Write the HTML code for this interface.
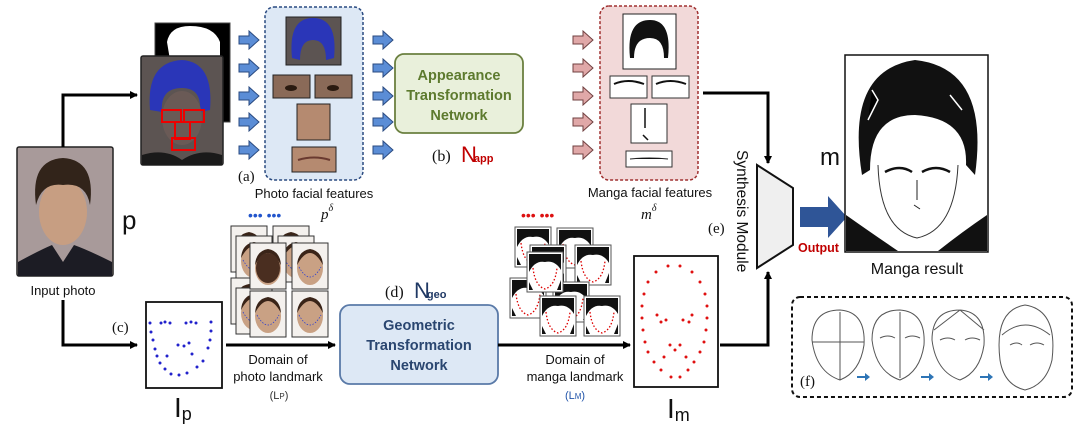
<!DOCTYPE html>
<html><head><meta charset="utf-8"><style>
html,body{margin:0;padding:0;background:#fff;width:1080px;height:428px;overflow:hidden}
svg text{font-family:"Liberation Sans",sans-serif}
.serif{font-family:"Liberation Serif",serif}
</style></head><body>
<svg width="1080" height="428" viewBox="0 0 1080 428" xmlns="http://www.w3.org/2000/svg">
<defs>
<marker id="ah" markerWidth="8" markerHeight="8" refX="7" refY="4" orient="auto" markerUnits="userSpaceOnUse"><path d="M0,0 L8,4 L0,8 Z" fill="#000"/></marker>
<g id="barr"><path d="M0,-4 H10 V-9 L20,0 L10,9 V4 H0 Z" fill="#5b8dd6" stroke="#2a4a80" stroke-width="1"/></g>
<g id="parr"><path d="M0,-4 H10 V-9 L20,0 L10,9 V4 H0 Z" fill="#e0a8a8" stroke="#704040" stroke-width="1"/></g>
<g id="face"><rect x="0" y="0" width="36" height="46" fill="#f4f1ee" stroke="#333" stroke-width="1"/><ellipse cx="18" cy="25" rx="13" ry="17" fill="#c9a184"/><path d="M5,22 Q18,-2 31,22 Q30,8 18,6 Q6,8 5,22Z" fill="#3a2418"/><path d="M7,24 Q18,44 29,24" fill="none" stroke="#3344cc" stroke-width="0.8" stroke-dasharray="1.5,1.5"/></g>
<g id="mface"><rect x="0" y="0" width="36" height="40" fill="#fff" stroke="#555" stroke-width="1"/><path d="M2,2 H34 V18 Q28,8 18,10 Q8,8 2,20Z" fill="#111"/><path d="M2,30 L6,38 H2Z M34,28 L30,38 H34Z" fill="#111"/><path d="M6,16 Q8,34 18,37 Q28,34 30,16" fill="none" stroke="#d00" stroke-width="1.3" stroke-dasharray="1.5,2"/></g>
</defs>

<!-- input photo -->
<rect x="17" y="147" width="96" height="129" rx="2" fill="#a89a9a" stroke="#222" stroke-width="1.5"/>
<ellipse cx="63" cy="212" rx="24" ry="33" fill="#c79e82"/>
<path d="M36,205 Q30,160 63,158 Q96,160 90,205 Q86,182 63,185 Q42,182 36,205Z" fill="#32241a"/>
<path d="M18,276 L18,262 Q40,250 52,245 L63,262 L74,245 Q88,250 112,262 V276Z" fill="#1c1c24"/>
<text x="63" y="295" font-size="13" text-anchor="middle" fill="#111">Input photo</text>
<text x="122" y="229" font-size="26" fill="#111">p</text>

<!-- top connector -->
<polyline points="63,147 63,95 137,95" fill="none" stroke="#000" stroke-width="3" marker-end="url(#ah)"/>
<rect x="155" y="23" width="75" height="99" fill="#000" stroke="#444"/>
<path d="M167,42 Q170,26 190,26 Q214,26 220,42 L220,60 L170,60Z" fill="#fff"/>
<rect x="141" y="56" width="82" height="109" rx="2" fill="#5c5452" stroke="#222" stroke-width="1.5"/>
<path d="M150,110 Q146,62 182,60 Q214,62 210,110 L200,112 Q202,88 182,88 Q160,88 162,112Z" fill="#2a36b8"/>
<ellipse cx="182" cy="118" rx="20" ry="27" fill="#6a5a56"/>
<path d="M142,165 L142,155 Q165,148 182,160 Q200,148 222,155 L222,165Z" fill="#1a1a1a"/>
<g fill="none" stroke="#e00" stroke-width="2"><rect x="162" y="110" width="19" height="12"/><rect x="184" y="110" width="20" height="12"/><rect x="175" y="122" width="15" height="17"/><rect x="172" y="138" width="23" height="12"/></g>

<use href="#barr" x="239" y="40"/><use href="#barr" x="239" y="68"/><use href="#barr" x="239" y="96"/><use href="#barr" x="239" y="122"/><use href="#barr" x="239" y="150"/>
<use href="#barr" x="373" y="40"/><use href="#barr" x="373" y="68"/><use href="#barr" x="373" y="96"/><use href="#barr" x="373" y="122"/><use href="#barr" x="373" y="150"/>

<rect x="265" y="7" width="98" height="173" rx="9" fill="#dde8f5" stroke="#2a4a80" stroke-width="1.5" stroke-dasharray="3,2"/>
<rect x="286" y="17" width="55" height="48" fill="#5c5452" stroke="#222"/>
<path d="M292,58 Q288,18 313,18 Q338,18 334,58 L326,60 Q326,40 313,40 Q300,40 300,60Z" fill="#2a36b8"/>
<rect x="273" y="75" width="37" height="23" fill="#8a6a58" stroke="#222"/>
<rect x="315" y="75" width="37" height="23" fill="#8a6a58" stroke="#222"/>
<ellipse cx="291" cy="88" rx="6" ry="3" fill="#2a1a10"/><ellipse cx="333" cy="88" rx="6" ry="3" fill="#2a1a10"/>
<rect x="297" y="104" width="33" height="36" fill="#b58a70" stroke="#222"/>
<rect x="292" y="147" width="44" height="25" fill="#b58a70" stroke="#222"/>
<path d="M298,160 Q314,155 330,160" stroke="#6a3a30" stroke-width="2" fill="none"/>
<text x="238" y="181" font-size="15" class="serif" fill="#111">(a)</text>
<text x="314" y="198" font-size="13" text-anchor="middle" fill="#111">Photo facial features</text>
<text x="321" y="219" font-size="15" class="serif" font-style="italic" fill="#111">p<tspan font-size="10" dy="-8">δ</tspan></text>

<rect x="395" y="54" width="128" height="79" rx="9" fill="#e9f0db" stroke="#6b8040" stroke-width="1.8"/>
<text font-size="14.5" font-weight="bold" fill="#5d7a2e" text-anchor="middle"><tspan x="459" y="80">Appearance</tspan><tspan x="459" y="100">Transformation</tspan><tspan x="459" y="120">Network</tspan></text>
<text x="432" y="161" font-size="16" class="serif" fill="#111">(b)</text>
<text x="461" y="162" font-size="22" fill="#c00000">N<tspan font-size="11" font-weight="bold" dx="-3">app</tspan></text>

<use href="#parr" x="573" y="40"/><use href="#parr" x="573" y="68"/><use href="#parr" x="573" y="96"/><use href="#parr" x="573" y="122"/><use href="#parr" x="573" y="150"/>
<rect x="600" y="6" width="98" height="174" rx="9" fill="#f2d9d9" stroke="#a03030" stroke-width="1.5" stroke-dasharray="3,2"/>
<rect x="623" y="14" width="53" height="55" fill="#fff" stroke="#222"/>
<path d="M630,58 Q626,20 650,20 Q672,20 668,58 L664,58 Q664,38 650,38 Q634,38 634,58Z" fill="#111"/>
<rect x="610" y="76" width="37" height="22" fill="#fff" stroke="#333"/><rect x="652" y="76" width="37" height="22" fill="#fff" stroke="#333"/>
<path d="M614,84 Q628,78 644,84 M656,84 Q670,78 686,84" stroke="#111" stroke-width="2" fill="none"/>
<rect x="631" y="104" width="36" height="39" fill="#fff" stroke="#333"/>
<path d="M645,108 V128 M643,135 L648,140" stroke="#111" stroke-width="1.5"/>
<rect x="626" y="151" width="46" height="16" fill="#fff" stroke="#333"/>
<path d="M630,159 Q650,157 668,159" stroke="#222" stroke-width="1"/>
<text x="650" y="197" font-size="13" text-anchor="middle" fill="#111">Manga facial features</text>
<text x="641" y="219" font-size="15" class="serif" font-style="italic" fill="#111">m<tspan font-size="10" dy="-8">δ</tspan></text>

<polyline points="703,93 768,93 768,163" fill="none" stroke="#000" stroke-width="3" marker-end="url(#ah)"/>
<polyline points="720,345 768,345 768,272" fill="none" stroke="#000" stroke-width="3" marker-end="url(#ah)"/>
<polygon points="757,165 793,188 793,245 757,268" fill="#efefef" stroke="#111" stroke-width="2"/>
<text transform="translate(737,150) rotate(90)" font-size="15.5" fill="#111">Synthesis Module</text>
<text x="708" y="233" font-size="15" class="serif" fill="#111">(e)</text>
<text x="820" y="165" font-size="24" fill="#111">m</text>
<path d="M800,207 H828 V196 L847,217 L828,238 V227 H800Z" fill="#2f5597"/>
<text x="798" y="252" font-size="12.5" font-weight="bold" fill="#c00000">Output</text>

<rect x="845" y="55" width="143" height="197" fill="#fff" stroke="#111" stroke-width="1.5"/>
<path d="M862,175 Q845,70 915,60 Q990,68 975,175 L966,165 Q968,118 915,115 Q870,115 870,170Z" fill="#111"/>
<path d="M868,120 L878,100 L872,90 M950,95 L962,110" stroke="#fff" stroke-width="1.5"/>
<path d="M878,165 Q880,230 917,238 Q955,230 958,165" fill="none" stroke="#333" stroke-width="1"/>
<path d="M885,172 Q900,164 912,172 M922,172 Q936,164 950,172" stroke="#111" stroke-width="2.5" fill="none"/>
<path d="M917,180 V200 M914,205 L920,209" stroke="#222" stroke-width="1"/>
<path d="M846,251 L846,215 Q870,232 898,251Z M987,251 L987,215 Q962,232 938,251Z" fill="#111"/>
<text x="917" y="274" font-size="16" text-anchor="middle" fill="#111">Manga result</text>

<rect x="792" y="297" width="280" height="100" rx="8" fill="#fff" stroke="#111" stroke-width="2" stroke-dasharray="4,3"/>
<g fill="none" stroke="#555" stroke-width="1">
<path d="M812,340 Q812,310 840,310 Q866,312 864,345 Q860,372 840,380 Q816,372 812,340Z M812,342 H864 M840,312 V380"/>
<path d="M872,340 Q872,310 900,310 Q926,312 924,345 Q920,372 900,380 Q876,372 872,340Z M900,312 V378 M880,338 Q888,334 895,338 M905,338 Q912,334 920,338"/>
<path d="M932,340 Q932,310 960,310 Q986,312 984,345 Q980,372 960,380 Q936,372 932,340Z M934,330 L960,310 L984,330 M940,340 Q948,336 955,340 M965,340 Q972,336 980,340"/>
<path d="M1000,360 Q994,310 1025,305 Q1058,310 1052,360 Q1046,385 1025,390 Q1004,385 1000,360Z M1002,335 Q1025,315 1050,335 M1010,345 Q1017,341 1022,345 M1030,345 Q1037,341 1044,345"/>
</g>
<g fill="#2e75b6"><path d="M857,376 h8 v-3 l5,4 l-5,4 v-3 h-8z"/><path d="M921,376 h8 v-3 l5,4 l-5,4 v-3 h-8z"/><path d="M980,376 h8 v-3 l5,4 l-5,4 v-3 h-8z"/></g>
<text x="800" y="386" font-size="15" class="serif" fill="#111">(f)</text>

<polyline points="63,300 63,345 137,345" fill="none" stroke="#000" stroke-width="3" marker-end="url(#ah)"/>
<text x="112" y="332" font-size="15" class="serif" fill="#111">(c)</text>
<rect x="146" y="302" width="76" height="86" fill="#fff" stroke="#111" stroke-width="1.8"/>
<g fill="#2222cc">
<circle cx="150" cy="323" r="1.5"/><circle cx="161" cy="323" r="1.5"/><circle cx="165" cy="322" r="1.5"/><circle cx="170" cy="323" r="1.5"/><circle cx="186" cy="323" r="1.5"/><circle cx="191" cy="322" r="1.5"/><circle cx="196" cy="323" r="1.5"/><circle cx="211" cy="322" r="1.5"/>
<circle cx="151" cy="332" r="1.5"/><circle cx="211" cy="331" r="1.5"/><circle cx="153" cy="340" r="1.5"/><circle cx="210" cy="340" r="1.5"/><circle cx="155" cy="349" r="1.5"/><circle cx="208" cy="348" r="1.5"/><circle cx="157" cy="356" r="1.5"/><circle cx="167" cy="356" r="1.5"/><circle cx="178" cy="345" r="1.5"/><circle cx="184" cy="346" r="1.5"/><circle cx="189" cy="343" r="1.5"/><circle cx="192" cy="354" r="1.5"/><circle cx="160" cy="363" r="1.5"/><circle cx="203" cy="361" r="1.5"/><circle cx="165" cy="369" r="1.5"/><circle cx="197" cy="367" r="1.5"/><circle cx="171" cy="374" r="1.5"/><circle cx="179" cy="375" r="1.5"/><circle cx="187" cy="373" r="1.5"/>
</g>
<text x="174" y="417" font-size="28" fill="#111">I<tspan font-size="18" dy="3">p</tspan></text>
<line x1="226" y1="345" x2="335" y2="345" stroke="#000" stroke-width="3" marker-end="url(#ah)"/>
<text font-size="13" text-anchor="middle" fill="#111"><tspan x="278" y="364">Domain of</tspan><tspan x="278" y="381">photo landmark</tspan></text>
<text x="279" y="399" font-size="11" text-anchor="middle" fill="#333">(L<tspan font-size="8">P</tspan>)</text>
<text x="248" y="220" font-size="14" fill="#2255cc">••• •••</text>
<use href="#face" x="231" y="226"/><use href="#face" x="273" y="226"/><use href="#face" x="236" y="236"/><use href="#face" x="278" y="236"/>
<use href="#face" x="231" y="278"/><use href="#face" x="236" y="288"/>
<use href="#face" x="250" y="243"/><use href="#face" x="292" y="243"/><use href="#face" x="250" y="291"/><use href="#face" x="292" y="291"/>
<ellipse cx="268" cy="268" rx="12" ry="15" fill="#4a2e20"/>

<text x="385" y="297" font-size="16" class="serif" fill="#111">(d)</text>
<text x="414" y="298" font-size="22" fill="#1f3864">N<tspan font-size="11" font-weight="bold" dx="-3">geo</tspan></text>
<rect x="340" y="305" width="158" height="79" rx="10" fill="#dde8f5" stroke="#5a7aa8" stroke-width="1.8"/>
<text font-size="14.5" font-weight="bold" fill="#2a4670" text-anchor="middle"><tspan x="419" y="330">Geometric</tspan><tspan x="419" y="350">Transformation</tspan><tspan x="419" y="370">Network</tspan></text>
<line x1="498" y1="345" x2="630" y2="345" stroke="#000" stroke-width="3" marker-end="url(#ah)"/>
<text font-size="13" text-anchor="middle" fill="#111"><tspan x="575" y="364">Domain of</tspan><tspan x="575" y="381">manga landmark</tspan></text>
<text x="575" y="399" font-size="11" text-anchor="middle" fill="#2255aa">(L<tspan font-size="8">M</tspan>)</text>
<text x="521" y="220" font-size="14" fill="#dd1111">••• •••</text>
<use href="#mface" x="515" y="227"/><use href="#mface" x="557" y="228"/><use href="#mface" x="530" y="245"/><use href="#mface" x="575" y="245"/>
<use href="#mface" x="510" y="278"/><use href="#mface" x="553" y="282"/><use href="#mface" x="540" y="296"/><use href="#mface" x="584" y="296"/>
<use href="#mface" x="527" y="252"/>

<rect x="634" y="256" width="84" height="131" fill="#fff" stroke="#111" stroke-width="1.8"/>
<g fill="#e01010">
<circle cx="668" cy="266" r="1.5"/><circle cx="680" cy="266" r="1.5"/><circle cx="656" cy="272" r="1.5"/><circle cx="692" cy="272" r="1.5"/><circle cx="648" cy="282" r="1.5"/><circle cx="700" cy="282" r="1.5"/><circle cx="644" cy="294" r="1.5"/><circle cx="705" cy="294" r="1.5"/><circle cx="642" cy="306" r="1.5"/><circle cx="707" cy="306" r="1.5"/><circle cx="642" cy="318" r="1.5"/><circle cx="707" cy="318" r="1.5"/><circle cx="643" cy="330" r="1.5"/><circle cx="706" cy="330" r="1.5"/><circle cx="645" cy="342" r="1.5"/><circle cx="704" cy="342" r="1.5"/><circle cx="648" cy="352" r="1.5"/><circle cx="700" cy="352" r="1.5"/><circle cx="654" cy="362" r="1.5"/><circle cx="694" cy="362" r="1.5"/><circle cx="661" cy="370" r="1.5"/><circle cx="688" cy="370" r="1.5"/><circle cx="671" cy="377" r="1.5"/><circle cx="680" cy="377" r="1.5"/>
<circle cx="657" cy="315" r="1.5"/><circle cx="661" cy="322" r="1.5"/><circle cx="666" cy="320" r="1.5"/><circle cx="683" cy="320" r="1.5"/><circle cx="689" cy="322" r="1.5"/><circle cx="692" cy="315" r="1.5"/><circle cx="670" cy="345" r="1.5"/><circle cx="675" cy="350" r="1.5"/><circle cx="680" cy="345" r="1.5"/><circle cx="664" cy="357" r="1.5"/><circle cx="686" cy="357" r="1.5"/>
</g>
<text x="667" y="418" font-size="28" fill="#111">I<tspan font-size="18" dy="3">m</tspan></text>
</svg>
</body></html>
